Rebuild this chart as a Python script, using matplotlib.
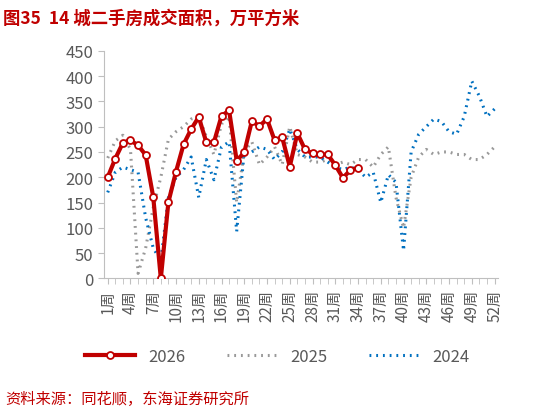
import matplotlib
matplotlib.use("Agg")
import matplotlib.pyplot as plt
from matplotlib.ticker import MultipleLocator

plt.rcParams['font.family'] = ['Noto Sans CJK SC', 'DejaVu Sans']

weeks = list(range(1, 53))
tick_labels = [f"{w}周" for w in range(1, 53, 3)]
s2026 = [200, 237, 268, 273, 263, 244, 161, 0, 151, 211, 265, 295, 319, 269, 269, 321, 332, 233, 249, 311,
         301, 315, 273, 279, 221, 287, 255, 247, 245, 245, 224, 199, 214, 219]
s2025 = [238, 272, 283, 255, 10, 60, 140, 200, 275, 290, 300, 315, 320, 280, 245, 305, 320, 150, 250, 270,
         225, 240, 260, 225, 300, 245, 240, 230, 230, 235, 225, 230, 225, 235, 235, 220, 245, 260, 160, 100,
         200, 240, 255, 245, 250, 250, 245, 245, 235, 235, 245, 260]
s2024 = [170, 210, 220, 215, 210, 120, 60, 35, 160, 200, 215, 240, 160, 235, 195, 260, 270, 93, 250, 250,
         260, 255, 235, 250, 295, 255, 240, 240, 240, 230, 220, 215, 220, 215, 200, 210, 150, 205, 190, 55,
         250, 285, 300, 315, 310, 290, 285, 320, 390, 360, 320, 335]

fig = plt.figure(figsize=(5.33, 4.14), dpi=100)
ax = fig.add_axes([0.195, 0.325, 0.74, 0.55])
ax.plot(weeks[:len(s2026)], s2026, color='#C00000', lw=3, marker='o', ms=5,
        mfc='white', mec='#C00000', mew=1.3, label='2026', zorder=3)
ax.plot(weeks, s2025, color='#999999', lw=2.2, ls=(0, (0.6, 1.6)), label='2025', zorder=2)
ax.plot(weeks, s2024, color='#0070C0', lw=2.2, ls=(0, (0.6, 1.6)), label='2024', zorder=2)

ax.set_xlim(0.5, 52.5)
ax.set_ylim(0, 450)
ax.yaxis.set_major_locator(MultipleLocator(50))
ax.set_xticks(range(1, 53, 3))
ax.set_xticklabels(tick_labels, rotation=90, fontsize=11, color='#595959')
ax.xaxis.set_minor_locator(MultipleLocator(1))
ax.tick_params(axis='y', labelsize=12, colors='#595959', length=4, color='#BFBFBF')
ax.tick_params(axis='x', which='both', length=4, color='#BFBFBF', direction='out')
for sp in ['top', 'right']:
    ax.spines[sp].set_visible(False)
for sp in ['left', 'bottom']:
    ax.spines[sp].set_color('#BFBFBF')

fig.legend(loc='lower center', bbox_to_anchor=(0.52, 0.08), ncol=3, frameon=False,
           fontsize=12, handlelength=3, columnspacing=2.5, labelcolor='#595959')

fig.text(0.005, 0.955, "图35  14 城二手房成交面积，万平方米", color='#C00000',
         fontsize=12.5, fontweight='bold', va='center')
fig.text(0.01, 0.035, "资料来源：同花顺，东海证券研究所", color='#C00000', fontsize=11, va='center')

fig.savefig("out.png", dpi=100)
